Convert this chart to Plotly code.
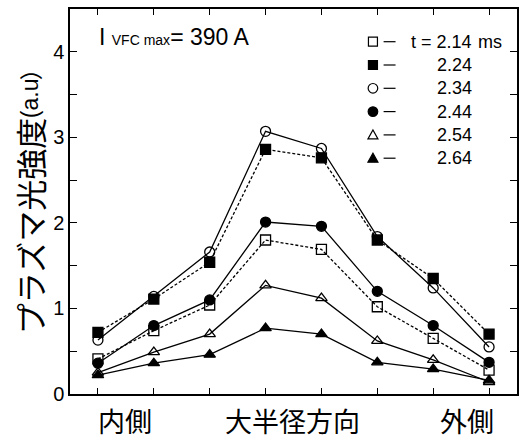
import plotly.graph_objects as go

# radial positions (channels) and time slices
positions = [1, 2, 3, 4, 5, 6, 7, 8]
times = ["2.14", "2.24", "2.34", "2.44", "2.54", "2.64"]

# plasma emission intensity (a.u.) for each time slice
t214 = [0.41, 0.74, 1.04, 1.80, 1.69, 1.02, 0.65, 0.28]
t224 = [0.72, 1.11, 1.54, 2.86, 2.76, 1.80, 1.35, 0.70]
t234 = [0.63, 1.14, 1.66, 3.07, 2.87, 1.84, 1.24, 0.55]
t244 = [0.36, 0.80, 1.10, 2.01, 1.96, 1.20, 0.80, 0.37]
t254 = [0.25, 0.49, 0.70, 1.27, 1.12, 0.62, 0.40, 0.14]
t264 = [0.22, 0.36, 0.46, 0.77, 0.70, 0.37, 0.29, 0.16]

series = [t214, t224, t234, t244, t254, t264]
symbols = ["square-open", "square", "circle-open", "circle", "triangle-up-open", "triangle-up"]
dashes = ["3px,2px", "3px,2px", "solid", "solid", "solid", "solid"]

side_labels = ["内側", "大半径方向", "外側"]
y_title_jp = "プラズマ光強度"
y_title_unit = ["(a.u", "\uff09"]

W, H = 521, 441
L, R, T, B = 70, 2, 9, 47
PW, PH = W - L - R, H - T - B

LATIN = "Liberation Sans, Arial, sans-serif"
CJK = "Noto Sans CJK JP"


def px(x):
    return (x - L) / PW


def py(y):
    return (H - B - y) / PH


fig = go.Figure()
for vals, sym, dash, t in zip(series, symbols, dashes, times):
    fig.add_trace(go.Scatter(
        x=positions, y=vals, mode="lines+markers", name=t,
        line=dict(color="black", width=1.3, dash=dash),
        marker=dict(symbol=sym, size=10, color="black",
                    line=dict(color="black", width=1.3)),
        showlegend=False,
    ))

axis_common = dict(showline=True, linecolor="black", linewidth=1.5, mirror="ticks",
                   ticks="inside", tickcolor="black", tickwidth=1.2,
                   showgrid=False, zeroline=False)

fig.update_xaxes(range=[0.5, 8.5], tickvals=positions, ticklen=6,
                 showticklabels=False, **axis_common)
fig.update_yaxes(range=[0, 4.5], tickvals=[0, 1, 2, 3, 4], ticklen=7,
                 tickfont=dict(family=LATIN, size=20, color="black"),
                 minor=dict(dtick=0.5, ticks="inside", ticklen=7,
                            tickcolor="black", tickwidth=1.2),
                 **axis_common)

annotations = []
shapes = []

# bottom direction labels
for text, cx in zip(side_labels, [125, 293.5, 468.5]):
    annotations.append(dict(x=px(cx), y=py(421), xref="paper", yref="paper",
                            text=text, showarrow=False, xanchor="center", yanchor="middle",
                            font=dict(family=CJK, size=27, color="black")))

# y axis title, written bottom-to-top in three pieces
annotations.append(dict(x=px(29), y=py(226), xref="paper", yref="paper",
                        text=y_title_jp, textangle=-90, showarrow=False,
                        xanchor="center", yanchor="middle",
                        font=dict(family=CJK, size=31, color="black")))
for piece, cy, fam in zip(y_title_unit, [98, 69], [LATIN, CJK]):
    annotations.append(dict(x=px(30), y=py(cy), xref="paper", yref="paper",
                            text=piece, textangle=-90, showarrow=False,
                            xanchor="center", yanchor="middle",
                            font=dict(family=fam, size=23, color="black")))

# coil current note
annotations.append(dict(x=px(97), y=py(37), xref="paper", yref="paper",
                        text="I <span style='font-size:14px'>VFC max</span>= 390 A",
                        showarrow=False, xanchor="left", yanchor="middle",
                        font=dict(family=LATIN, size=23, color="black")))

# legend block
row_y0, row_dy = 41.7, 23.3
sym_x, dash_x0, dash_x1, num_right = 374.3, 385, 397, 473
for i, (sym, t) in enumerate(zip(symbols, times)):
    ry = row_y0 + i * row_dy
    ax, ay = px(sym_x), py(ry)
    filled = not sym.endswith("open")
    fill = "black" if filled else "rgba(0,0,0,0)"
    base = dict(xref="paper", yref="paper", xsizemode="pixel", ysizemode="pixel",
                xanchor=ax, yanchor=ay, line=dict(color="black", width=1.2),
                fillcolor=fill)
    if sym.startswith("square"):
        shapes.append(dict(type="rect", x0=-4.5, x1=4.5, y0=-4.5, y1=4.5, **base))
    elif sym.startswith("circle"):
        shapes.append(dict(type="circle", x0=-4.8, x1=4.8, y0=-4.8, y1=4.8, **base))
    else:
        shapes.append(dict(type="path", path="M -5 -4 L 5 -4 L 0 5 Z", **base))
    shapes.append(dict(type="line", xref="paper", yref="paper",
                       x0=px(dash_x0), x1=px(dash_x1), y0=ay, y1=ay,
                       line=dict(color="black", width=1.2)))
    label = ("t = " + t) if i == 0 else t
    annotations.append(dict(x=px(num_right), y=ay, xref="paper", yref="paper",
                            text=label, showarrow=False, xanchor="right", yanchor="middle",
                            xshift=3, font=dict(family=LATIN, size=18, color="black")))
    if i == 0:
        annotations.append(dict(x=px(num_right), y=ay, xref="paper", yref="paper",
                                text="\u00a0ms", showarrow=False, xanchor="left", yanchor="middle",
                                xshift=0, font=dict(family=LATIN, size=18, color="black")))

fig.update_layout(
    width=W, height=H,
    margin=dict(l=L, r=R, t=T, b=B),
    paper_bgcolor="white", plot_bgcolor="white",
    annotations=annotations, shapes=shapes,
    showlegend=False,
)

fig.write_html("out.html")
